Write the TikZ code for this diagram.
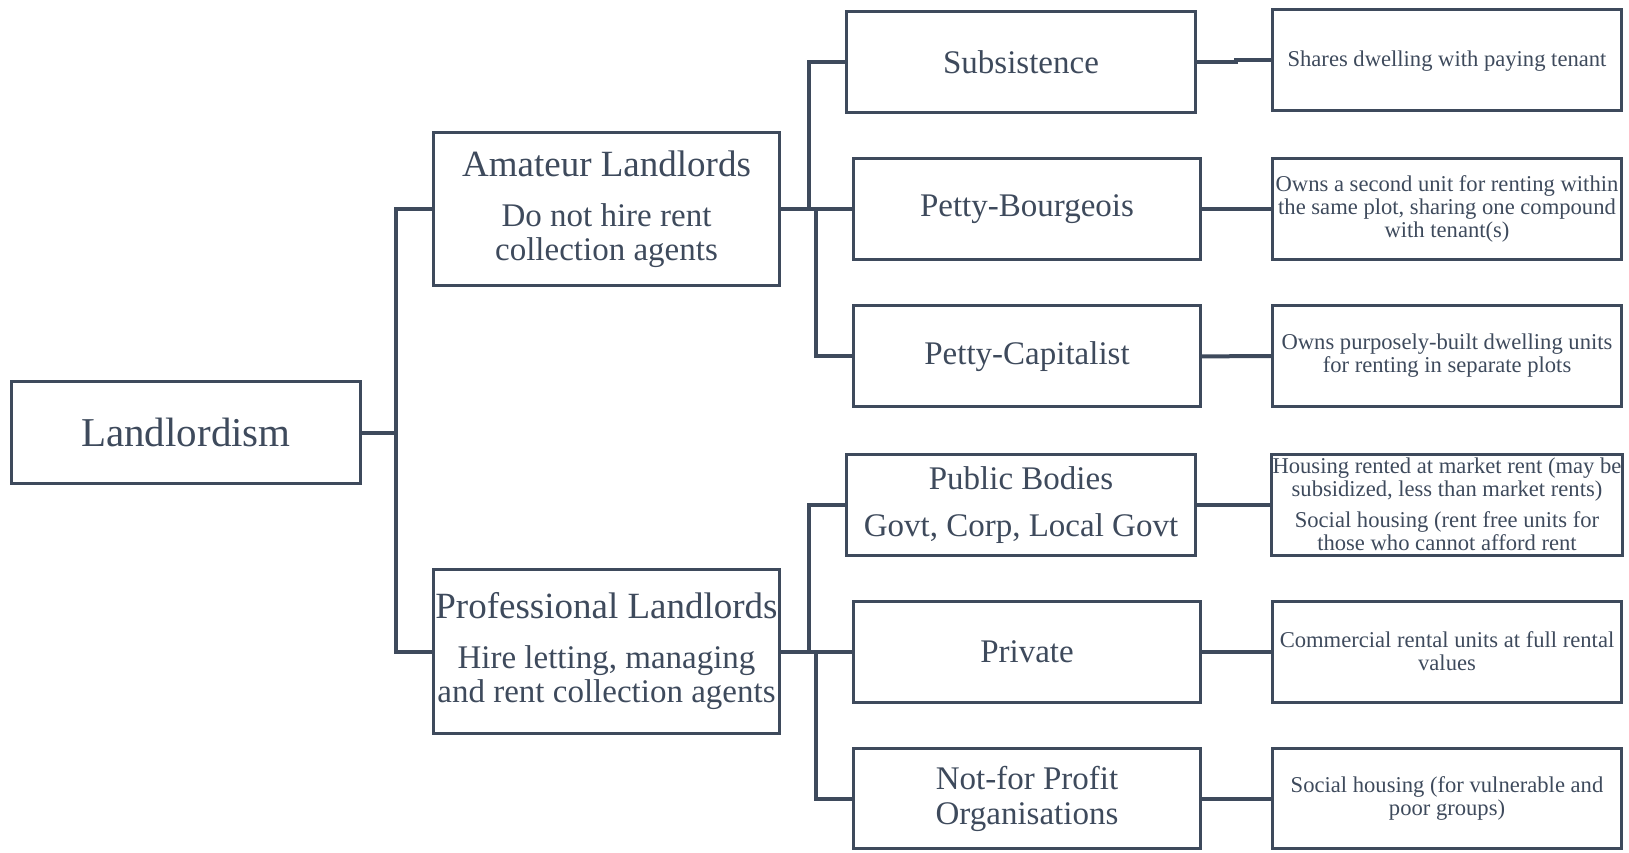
\documentclass[tikz,border=0pt]{standalone}
\usepackage{fontspec}
\setmainfont{Liberation Serif}
\definecolor{slate}{RGB}{62,74,92}
\begin{document}
\begin{tikzpicture}[x=1pt,y=-1pt,
  box/.style={draw=slate, line width=3pt, rectangle, inner sep=1pt, align=center, text=slate},
  midbox/.style={box, minimum width=347pt, minimum height=101pt, font=\fontsize{33}{34}\selectfont},
  catbox/.style={box, minimum width=346pt, font=\fontsize{33}{34}\selectfont},
  descbox/.style={box, minimum width=349pt, minimum height=101pt, font=\fontsize{22.6}{23}\selectfont},
  conn/.style={draw=slate, line width=4pt}]
\useasboundingbox (0,0) rectangle (1629,852);

% root
\node[box, minimum width=349pt, minimum height=102pt, font=\fontsize{41}{44}\selectfont] (root) at (186,432.5) {Landlordism};

% categories
\node[catbox, minimum height=153pt] (am) at (606.5,209) {{\fontsize{37}{37}\selectfont Amateur Landlords}\\[16pt]Do not hire rent\\collection agents};
\node[catbox, minimum height=164pt] (pro) at (606.5,651.5) {{\fontsize{37}{37}\selectfont Professional Landlords}\\[16pt]Hire letting, managing\\and rent collection agents};

% types
\node[midbox, minimum width=349pt] (sub) at (1021,62.4) {Subsistence};
\node[midbox] (pb) at (1027,209) {Petty-Bourgeois};
\node[midbox] (pc) at (1027,356.4) {Petty-Capitalist};
\node[midbox, minimum width=349pt] (pub) at (1021,505) {Public Bodies\\[13pt]Govt, Corp, Local Govt};
\node[midbox] (priv) at (1027,651.5) {Private};
\node[midbox, minimum height=100pt] (nfp) at (1027,798.5) {Not-for Profit\\[1pt]Organisations};

% descriptions
\node[descbox, text height=17pt, text depth=3pt] (r1) at (1447,59.7) {Shares dwelling with paying tenant};
\node[descbox] (r2) at (1447,209) {Owns a second unit for renting within\\the same plot, sharing one compound\\with tenant(s)};
\node[descbox] (r3) at (1447,356) {Owns purposely-built dwelling units\\for renting in separate plots};
\node[descbox] (r4) at (1447,504.5) {Housing rented at market rent (may be\\subsidized, less than market rents)\\[8pt]Social housing (rent free units for\\those who cannot afford rent};
\node[descbox] (r5) at (1447,651.5) {Commercial rental units at full rental\\values};
\node[descbox, minimum height=100pt] (r6) at (1447,798.5) {Social housing (for vulnerable and\\poor groups)};

% bus coordinates
\coordinate (b1) at (396,0);
\coordinate (bu) at (809,0);
\coordinate (bl) at (816,0);
\coordinate (rj) at (1236,0);

% root connectors
\draw[conn] (root.east) -- (root.east -| b1);
\draw[conn] (am.west) -- (am.west -| b1) -- (pro.west -| b1) -- (pro.west);

% amateur connectors
\draw[conn] (am.east) -- (pb.west);
\draw[conn] (sub.west) -- (sub.west -| bu) -- (am.east -| bu);
\draw[conn] (pc.west) -- (pc.west -| bl) -- (am.east -| bl);

% professional connectors
\draw[conn] (pro.east) -- (priv.west);
\draw[conn] (pub.west) -- (pub.west -| bu) -- (pro.east -| bu);
\draw[conn] (nfp.west) -- (nfp.west -| bl) -- (pro.east -| bl);

% description connectors
\draw[conn] (sub.east) -- (sub.east -| rj) |- (r1.west);
\draw[conn] (pb.east) -- (r2.west);
\draw[conn] (pc.east) -- (r3.west);
\draw[conn] (pub.east) -- (pub.east -| rj) |- (r4.west);
\draw[conn] (priv.east) -- (r5.west);
\draw[conn] (nfp.east) -- (r6.west);
\end{tikzpicture}
\end{document}
